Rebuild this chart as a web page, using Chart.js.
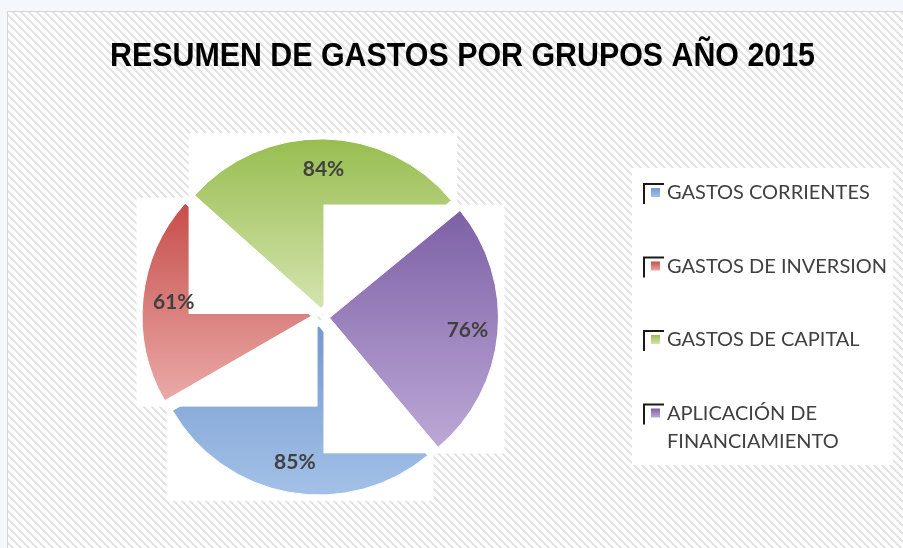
<!DOCTYPE html>
<html>
<head>
<meta charset="utf-8">
<script src="https://cdn.jsdelivr.net/npm/chart.js@4.4.1/dist/chart.umd.min.js"></script>
<style>
  html, body { margin: 0; padding: 0; background: #f4f8fc; }
  canvas { display: block; }
</style>
</head>
<body>
<canvas id="gastosChart" width="903" height="548"></canvas>
<script>
const chartTitle = 'RESUMEN DE GASTOS POR GRUPOS AÑO 2015';
const groups = ['GASTOS CORRIENTES', 'GASTOS DE INVERSION', 'GASTOS DE CAPITAL', 'APLICACIÓN DE FINANCIAMIENTO'];
const percents = [85, 61, 84, 76];
const topColors = ['#7599cf', '#c64e4b', '#98bd50', '#7d60a6'];
const bottomColors = ['#a3c1e7', '#eaaaa7', '#d4e4ae', '#bca8d6'];

// diagonal hatch used by the chart frame
function hatchPattern(ctx) {
  const c = document.createElement('canvas');
  c.width = 8; c.height = 8;
  const p = c.getContext('2d');
  p.fillStyle = '#ffffff';
  p.fillRect(0, 0, 8, 8);
  p.fillStyle = '#e4e4e4';
  for (let x = 0; x < 8; x++) {
    for (let y = 0; y < 8; y++) {
      if ((((x - y) % 8) + 8) % 8 < 3) p.fillRect(x, y, 1, 1);
    }
  }
  return ctx.createPattern(c, 'repeat');
}

// box around an (exploded) slice, like the white boxes Excel left behind
function arcBox(arc) {
  const shift = (arc.options.offset || 0) / 4;
  const mid = (arc.startAngle + arc.endAngle) / 2;
  const cx = arc.x + Math.cos(mid) * shift;
  const cy = arc.y + Math.sin(mid) * shift;
  const angles = [arc.startAngle, arc.endAngle];
  for (let k = Math.ceil(arc.startAngle / (Math.PI / 2)); k * Math.PI / 2 < arc.endAngle; k++) {
    angles.push(k * Math.PI / 2);
  }
  const xs = [cx], ys = [cy];
  angles.forEach(a => {
    xs.push(cx + Math.cos(a) * arc.outerRadius);
    ys.push(cy + Math.sin(a) * arc.outerRadius);
  });
  return {
    left: Math.min(...xs), right: Math.max(...xs),
    top: Math.min(...ys), bottom: Math.max(...ys),
    dx: cx - arc.x, dy: cy - arc.y
  };
}

const baseArcDraw = Chart.ArcElement.prototype.draw;
Chart.ArcElement.prototype.draw = function (ctx) {
  const b = arcBox(this);
  const pad = 6;
  ctx.save();
  ctx.fillStyle = '#ffffff';
  ctx.fillRect(b.left - pad, b.top - pad, b.right - b.left + pad * 2, b.bottom - b.top + pad * 2);
  ctx.restore();
  const i = this.$context ? this.$context.dataIndex : 0;
  const grad = ctx.createLinearGradient(0, b.top - b.dy, 0, b.bottom - b.dy);
  grad.addColorStop(0, topColors[i]);
  grad.addColorStop(1, bottomColors[i]);
  const view = Object.create(this);
  view.options = Object.assign({}, this.options, { backgroundColor: grad });
  baseArcDraw.call(view, ctx);
};

const framePlugin = {
  id: 'frame',
  beforeDraw(chart) {
    const ctx = chart.ctx;
    ctx.save();
    ctx.fillStyle = '#f4f8fc';
    ctx.fillRect(0, 0, chart.width, chart.height);
    ctx.fillStyle = hatchPattern(ctx);
    ctx.fillRect(8, 12, chart.width - 8, chart.height - 12);
    ctx.strokeStyle = '#d6d6d6';
    ctx.lineWidth = 1;
    ctx.strokeRect(7.5, 11.5, chart.width, chart.height);

    // title, squeezed like a narrow face
    ctx.font = 'bold 34px "Liberation Sans Narrow", "Liberation Sans", Arial, sans-serif';
    ctx.fillStyle = '#000000';
    ctx.textBaseline = 'alphabetic';
    const w = ctx.measureText(chartTitle).width;
    const target = 705;
    ctx.translate(462.5, 66);
    ctx.scale(target / w, 1);
    ctx.textAlign = 'center';
    ctx.fillText(chartTitle, 0, 0);
    ctx.restore();
  }
};

const labelsPlugin = {
  id: 'sliceLabels',
  afterDatasetsDraw(chart) {
    const ctx = chart.ctx;
    const meta = chart.getDatasetMeta(0);
    ctx.save();
    ctx.font = 'bold 21px Lato, "Open Sans", sans-serif';
    ctx.fillStyle = '#404040';
    ctx.textAlign = 'center';
    ctx.textBaseline = 'middle';
    meta.data.forEach((arc, i) => {
      const mid = (arc.startAngle + arc.endAngle) / 2;
      const d = (arc.options.offset || 0) / 4 + arc.outerRadius * 0.82;
      ctx.fillText(percents[i] + '%', arc.x + Math.cos(mid) * d, arc.y + Math.sin(mid) * d);
    });
    ctx.restore();
  }
};

const legendPlugin = {
  id: 'sideLegend',
  afterDraw(chart) {
    const ctx = chart.ctx;
    ctx.save();
    ctx.fillStyle = '#ffffff';
    ctx.fillRect(632, 168, 261, 297);
    ctx.font = '20px Lato, "Open Sans", sans-serif';
    ctx.textBaseline = 'middle';
    ctx.textAlign = 'left';
    let y = 193;
    groups.forEach((g, i) => {
      // wrap long names on two lines
      const words = g.split(' ');
      const lines = [];
      let line = '';
      words.forEach(wd => {
        const t = line ? line + ' ' + wd : wd;
        if (ctx.measureText(t).width > 226 && line) { lines.push(line); line = wd; }
        else line = t;
      });
      lines.push(line);

      ctx.strokeStyle = '#1a1a1a';
      ctx.lineWidth = 2;
      ctx.beginPath();
      ctx.moveTo(644, y + 11);
      ctx.lineTo(644, y - 9);
      ctx.lineTo(664, y - 9);
      ctx.stroke();
      const g2 = ctx.createLinearGradient(0, y - 5, 0, y + 4);
      g2.addColorStop(0, topColors[i]);
      g2.addColorStop(1, bottomColors[i]);
      ctx.fillStyle = g2;
      ctx.fillRect(651, y - 5, 9, 9);

      ctx.fillStyle = '#404040';
      lines.forEach((ln, k) => ctx.fillText(ln, 667, y + k * 28));
      y += 73.5;
    });
    ctx.restore();
  }
};

new Chart(document.getElementById('gastosChart').getContext('2d'), {
  type: 'pie',
  data: {
    labels: groups,
    datasets: [{
      data: percents,
      backgroundColor: topColors,
      borderColor: '#ffffff',
      borderWidth: 1,
      offset: 36
    }]
  },
  options: {
    responsive: false,
    animation: false,
    rotation: 140,
    radius: 169,
    layout: { padding: { left: 133, right: 395, top: 130, bottom: 44 } },
    plugins: {
      legend: { display: false },
      title: { display: false },
      tooltip: { enabled: false }
    }
  },
  plugins: [framePlugin, labelsPlugin, legendPlugin]
});
</script>
</body>
</html>
